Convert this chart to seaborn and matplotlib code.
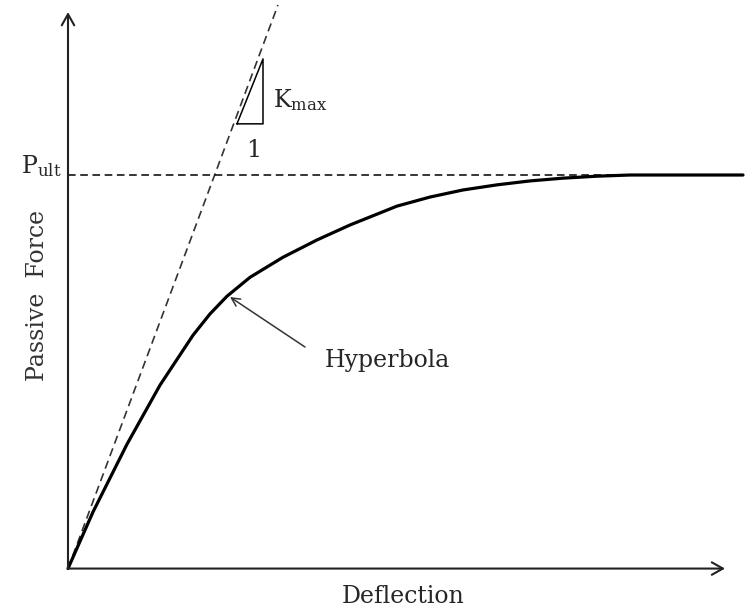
import matplotlib
matplotlib.use("Agg")
import matplotlib.pyplot as plt
import seaborn as sns
import pandas as pd

# ---- data (arbitrary units) ----
deflection = [0, 0.381, 0.898, 1.400, 1.903, 2.161, 2.420, 2.770, 3.272, 3.790, 4.292,
              5.008, 5.510, 6.012, 6.530, 7.032, 7.534, 8.052, 8.554, 9.056, 10.274]
force = [0, 0.144, 0.316, 0.466, 0.593, 0.647, 0.692, 0.740, 0.791, 0.835, 0.873,
         0.921, 0.944, 0.962, 0.975, 0.985, 0.992, 0.997, 1.0, 1.0, 1.0]
kmax_x = [0, 3.196]
kmax_y = [0, 1.432]
pult_x = [0, 10.274]
pult_y = [1.0, 1.0]
tri_x = [2.572, 2.968, 2.968, 2.572]
tri_y = [1.130, 1.130, 1.295, 1.130]
x_axis_end = 10.0
y_axis_end = 1.414

sns.set_style("white")
plt.rcParams["font.family"] = ["DejaVu Serif"]
plt.rcParams["mathtext.fontset"] = "dejavuserif"

fig = plt.figure(figsize=(7.48, 6.15), dpi=100)
ax = fig.add_axes([0, 0, 1, 1])
ax.set_xlim(-1.035, 10.35)
ax.set_ylim(-0.118, 1.4447)
ax.axis("off")

curve = pd.DataFrame({"Deflection": deflection, "Force": force})
sns.lineplot(data=curve, x="Deflection", y="Force", ax=ax, color="black",
             lw=2.3, sort=False, zorder=3)
for line in ax.lines:
    line.set_solid_joinstyle("round")
sns.lineplot(x=kmax_x, y=kmax_y, ax=ax, color="#333333", lw=1.2,
             linestyle=(0, (5, 3)), zorder=2)
sns.lineplot(x=pult_x, y=pult_y, ax=ax, color="black", lw=1.1,
             linestyle=(0, (5, 3)), zorder=2)
ax.plot(tri_x, tri_y, color="black", lw=1.1)

# axes arrows
arrow_kw = dict(arrowstyle="->,head_length=0.8,head_width=0.45", color="#222222", lw=1.5,
                shrinkA=0, shrinkB=0)
ax.annotate("", xy=(x_axis_end, 0), xytext=(0, 0), arrowprops=arrow_kw)
ax.annotate("", xy=(0, y_axis_end), xytext=(0, 0), arrowprops=arrow_kw)

fs = 17
ax.text(-0.10, 1.005, r"P$_{\mathregular{ult}}$", ha="right", va="baseline", fontsize=fs)
ax.text(3.12, 1.173, r"K$_{\mathregular{max}}$", ha="left", va="baseline", fontsize=fs)
ax.text(2.82, 1.046, "1", ha="center", va="baseline", fontsize=fs)
ax.text(-0.457, 0.695, "Passive  Force", rotation=90, ha="center", va="center",
        fontsize=fs, color="#333333")
ax.text(5.10, -0.088, "Deflection", ha="center", va="baseline", fontsize=fs)
ax.text(3.91, 0.512, "Hyperbola", ha="left", va="baseline", fontsize=fs)
ax.annotate("", xy=(2.466, 0.690), xytext=(3.607, 0.563),
            arrowprops=dict(arrowstyle="->,head_length=0.6,head_width=0.3",
                            color="#333333", lw=1.1, shrinkA=0, shrinkB=0))

fig.savefig("out.png", dpi=100)
